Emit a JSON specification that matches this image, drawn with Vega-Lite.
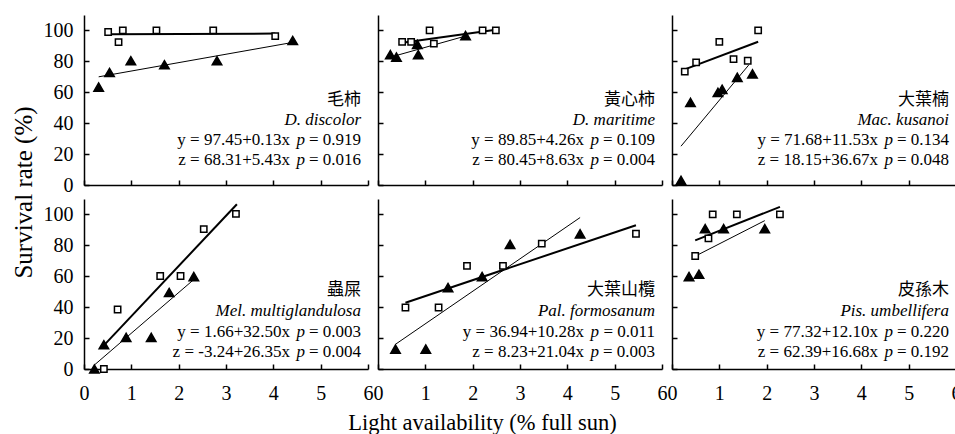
{
"$schema":"https://vega.github.io/schema/vega-lite/v6.json",
"background":"white",
"padding":{"left":11,"top":15,"right":0,"bottom":0},
"datasets":{
"pts":[
{"p":"p1","s":"y","x":0.51,"v":99},{"p":"p1","s":"y","x":0.73,"v":92.5},{"p":"p1","s":"y","x":0.82,"v":100},{"p":"p1","s":"y","x":1.53,"v":100},{"p":"p1","s":"y","x":2.73,"v":100},{"p":"p1","s":"y","x":4.04,"v":96.3},
{"p":"p1","s":"z","x":0.31,"v":63.4},{"p":"p1","s":"z","x":0.54,"v":72.8},{"p":"p1","s":"z","x":0.99,"v":80.4},{"p":"p1","s":"z","x":1.70,"v":77.8},{"p":"p1","s":"z","x":2.81,"v":80.4},{"p":"p1","s":"z","x":4.41,"v":93.5},
{"p":"p2","s":"z","x":0.26,"v":84.3},{"p":"p2","s":"z","x":0.39,"v":82.8},{"p":"p2","s":"z","x":0.83,"v":91},{"p":"p2","s":"z","x":0.85,"v":84.3},{"p":"p2","s":"z","x":1.85,"v":96.7},
{"p":"p2","s":"y","x":0.51,"v":92.6},{"p":"p2","s":"y","x":0.70,"v":92.6},{"p":"p2","s":"y","x":1.09,"v":100},{"p":"p2","s":"y","x":1.18,"v":91.5},{"p":"p2","s":"y","x":2.21,"v":100},{"p":"p2","s":"y","x":2.49,"v":100},
{"p":"p3","s":"y","x":0.27,"v":73.4},{"p":"p3","s":"y","x":0.51,"v":79.3},{"p":"p3","s":"y","x":1.0,"v":92.6},{"p":"p3","s":"y","x":1.30,"v":81.5},{"p":"p3","s":"y","x":1.60,"v":80.4},{"p":"p3","s":"y","x":1.82,"v":100},
{"p":"p3","s":"z","x":0.19,"v":3},{"p":"p3","s":"z","x":0.39,"v":53.4},{"p":"p3","s":"z","x":0.97,"v":59.9},{"p":"p3","s":"z","x":1.06,"v":61.9},{"p":"p3","s":"z","x":1.38,"v":69.7},{"p":"p3","s":"z","x":1.70,"v":71.9},
{"p":"p4","s":"y","x":0.42,"v":0},{"p":"p4","s":"y","x":0.71,"v":38.5},{"p":"p4","s":"y","x":1.61,"v":60.2},{"p":"p4","s":"y","x":2.04,"v":60.2},{"p":"p4","s":"y","x":2.53,"v":90.5},{"p":"p4","s":"y","x":3.21,"v":100.4},
{"p":"p4","s":"z","x":0.22,"v":0},{"p":"p4","s":"z","x":0.42,"v":15.7},{"p":"p4","s":"z","x":0.89,"v":20.4},{"p":"p4","s":"z","x":1.42,"v":20.4},{"p":"p4","s":"z","x":1.80,"v":49.5},{"p":"p4","s":"z","x":2.32,"v":59.8},
{"p":"p5","s":"y","x":0.58,"v":39.8},{"p":"p5","s":"y","x":1.28,"v":39.8},{"p":"p5","s":"y","x":1.88,"v":66.7},{"p":"p5","s":"y","x":2.64,"v":66.7},{"p":"p5","s":"y","x":3.46,"v":81.1},{"p":"p5","s":"y","x":5.45,"v":87.5},
{"p":"p5","s":"z","x":0.37,"v":12.9},{"p":"p5","s":"z","x":1.01,"v":12.9},{"p":"p5","s":"z","x":1.48,"v":52.7},{"p":"p5","s":"z","x":2.20,"v":59.8},{"p":"p5","s":"z","x":2.79,"v":80.6},{"p":"p5","s":"z","x":4.27,"v":87.5},
{"p":"p6","s":"y","x":0.49,"v":73.1},{"p":"p6","s":"y","x":0.77,"v":84.5},{"p":"p6","s":"y","x":0.86,"v":100},{"p":"p6","s":"y","x":1.37,"v":100},{"p":"p6","s":"y","x":2.28,"v":100},
{"p":"p6","s":"z","x":0.36,"v":59.8},{"p":"p6","s":"z","x":0.57,"v":61.3},{"p":"p6","s":"z","x":0.70,"v":90.8},{"p":"p6","s":"z","x":1.09,"v":90.8},{"p":"p6","s":"z","x":1.96,"v":90.8}
],
"lns":[
{"p":"p1","s":"y","x":0.51,"v":97.5},{"p":"p1","s":"y","x":4.04,"v":98.0},{"p":"p1","s":"z","x":0.31,"v":70.0},{"p":"p1","s":"z","x":4.38,"v":92.1},
{"p":"p2","s":"y","x":0.51,"v":92.0},{"p":"p2","s":"y","x":2.49,"v":100.5},{"p":"p2","s":"z","x":0.26,"v":82.7},{"p":"p2","s":"z","x":1.85,"v":96.4},
{"p":"p3","s":"y","x":0.27,"v":74.8},{"p":"p3","s":"y","x":1.82,"v":92.7},{"p":"p3","s":"z","x":0.19,"v":25.1},{"p":"p3","s":"z","x":1.62,"v":77.6},
{"p":"p4","s":"y","x":0.42,"v":15.3},{"p":"p4","s":"y","x":3.23,"v":106.6},{"p":"p4","s":"z","x":0.22,"v":2.6},{"p":"p4","s":"z","x":2.32,"v":57.9},
{"p":"p5","s":"y","x":0.58,"v":42.9},{"p":"p5","s":"y","x":5.45,"v":93.0},{"p":"p5","s":"z","x":0.37,"v":16.0},{"p":"p5","s":"z","x":4.27,"v":98.0},
{"p":"p6","s":"y","x":0.49,"v":83.2},{"p":"p6","s":"y","x":2.28,"v":104.9},{"p":"p6","s":"z","x":0.49,"v":73.0},{"p":"p6","s":"z","x":1.96,"v":96.0}
],
"txt":[
{"p":"p1","cn":"毛柿","la":"D. discolor","eq":["y = 97.45+0.13x","z = 68.31+5.43x"],"pv":["= 0.919","= 0.016"]},
{"p":"p2","cn":"黃心柿","la":"D. maritime","eq":["y = 89.85+4.26x","z = 80.45+8.63x"],"pv":["= 0.109","= 0.004"]},
{"p":"p3","cn":"大葉楠","la":"Mac. kusanoi","eq":["y = 71.68+11.53x","z = 18.15+36.67x"],"pv":["= 0.134","= 0.048"]},
{"p":"p4","cn":"蟲屎","la":"Mel. multiglandulosa","eq":["y = 1.66+32.50x","z = -3.24+26.35x"],"pv":["= 0.003","= 0.004"]},
{"p":"p5","cn":"大葉山欖","la":"Pal. formosanum","eq":["y = 36.94+10.28x","z = 8.23+21.04x"],"pv":["= 0.011","= 0.003"]},
{"p":"p6","cn":"皮孫木","la":"Pis. umbellifera","eq":["y = 77.32+12.10x","z = 62.39+16.68x"],"pv":["= 0.220","= 0.192"]}
]
},
"columns":3,
"spacing":{"row":14,"column":10},
"bounds":"flush",
"concat":[
{"width":284,"height":170,"layer":[
{"data":{"name":"lns"},"transform":[{"filter":"datum.p==='p1'"}],"mark":"line","encoding":{"x":{"field":"x","type":"quantitative","scale":{"domain":[0,6],"nice":false},"axis":{"values":[0,1,2,3,4,5,6],"format":"d","labels":false,"title":null}},"y":{"field":"v","type":"quantitative","scale":{"domain":[0,110],"nice":false},"axis":{"values":[0,20,40,60,80,100],"format":"d","tickCount":12,"title":"Survival rate (%)","titleY":177,"titlePadding":7}},"detail":{"field":"s"},"strokeWidth":{"field":"s","type":"nominal","scale":{"domain":["y","z"],"range":[2,1]},"legend":null}}},
{"data":{"name":"pts"},"transform":[{"filter":"datum.p==='p1'"}],"mark":"point","encoding":{"x":{"field":"x","type":"quantitative"},"y":{"field":"v","type":"quantitative"},"shape":{"field":"s","type":"nominal","scale":{"domain":["y","z"],"range":["square","triangle-up"]},"legend":null},"fill":{"field":"s","type":"nominal","scale":{"domain":["y","z"],"range":["white","black"]},"legend":null},"size":{"field":"s","type":"ordinal","scale":{"domain":["y","z"],"range":[40,90]},"legend":null}}},
{"data":{"name":"txt"},"transform":[{"filter":"datum.p==='p1'"}],"mark":{"type":"text","dx":-7,"font":"Noto Sans CJK TC"},"encoding":{"x":{"datum":6},"y":{"datum":55},"text":{"field":"cn","type":"nominal"}}},
{"data":{"name":"txt"},"transform":[{"filter":"datum.p==='p1'"}],"mark":{"type":"text","dx":-7,"fontStyle":"italic"},"encoding":{"x":{"datum":6},"y":{"datum":42},"text":{"field":"la","type":"nominal"}}},
{"data":{"name":"txt"},"transform":[{"filter":"datum.p==='p1'"}],"mark":{"type":"text","dx":-78},"encoding":{"x":{"datum":6},"y":{"datum":29.1},"text":{"field":"eq","type":"nominal"}}},
{"data":{"name":"txt"},"transform":[{"filter":"datum.p==='p1'"}],"mark":{"type":"text","dx":-63,"fontStyle":"italic"},"encoding":{"x":{"datum":6},"y":{"datum":29.1},"text":{"value":["p","p"]}}},
{"data":{"name":"txt"},"transform":[{"filter":"datum.p==='p1'"}],"mark":{"type":"text","dx":-7},"encoding":{"x":{"datum":6},"y":{"datum":29.1},"text":{"field":"pv","type":"nominal"}}}
]},
{"width":284,"height":170,"layer":[
{"data":{"name":"lns"},"transform":[{"filter":"datum.p==='p2'"}],"mark":"line","encoding":{"x":{"field":"x","type":"quantitative","scale":{"domain":[0,6],"nice":false},"axis":{"values":[0,1,2,3,4,5,6],"format":"d","labels":false,"title":null}},"y":{"field":"v","type":"quantitative","scale":{"domain":[0,110],"nice":false},"axis":{"values":[0,20,40,60,80,100],"format":"d","tickCount":12,"labels":false,"title":null}},"detail":{"field":"s"},"strokeWidth":{"field":"s","type":"nominal","scale":{"domain":["y","z"],"range":[2,1]},"legend":null}}},
{"data":{"name":"pts"},"transform":[{"filter":"datum.p==='p2'"}],"mark":"point","encoding":{"x":{"field":"x","type":"quantitative"},"y":{"field":"v","type":"quantitative"},"shape":{"field":"s","type":"nominal","scale":{"domain":["y","z"],"range":["square","triangle-up"]},"legend":null},"fill":{"field":"s","type":"nominal","scale":{"domain":["y","z"],"range":["white","black"]},"legend":null},"size":{"field":"s","type":"ordinal","scale":{"domain":["y","z"],"range":[40,90]},"legend":null}}},
{"data":{"name":"txt"},"transform":[{"filter":"datum.p==='p2'"}],"mark":{"type":"text","dx":-7,"font":"Noto Sans CJK TC"},"encoding":{"x":{"datum":6},"y":{"datum":55},"text":{"field":"cn","type":"nominal"}}},
{"data":{"name":"txt"},"transform":[{"filter":"datum.p==='p2'"}],"mark":{"type":"text","dx":-7,"fontStyle":"italic"},"encoding":{"x":{"datum":6},"y":{"datum":42},"text":{"field":"la","type":"nominal"}}},
{"data":{"name":"txt"},"transform":[{"filter":"datum.p==='p2'"}],"mark":{"type":"text","dx":-78},"encoding":{"x":{"datum":6},"y":{"datum":29.1},"text":{"field":"eq","type":"nominal"}}},
{"data":{"name":"txt"},"transform":[{"filter":"datum.p==='p2'"}],"mark":{"type":"text","dx":-63,"fontStyle":"italic"},"encoding":{"x":{"datum":6},"y":{"datum":29.1},"text":{"value":["p","p"]}}},
{"data":{"name":"txt"},"transform":[{"filter":"datum.p==='p2'"}],"mark":{"type":"text","dx":-7},"encoding":{"x":{"datum":6},"y":{"datum":29.1},"text":{"field":"pv","type":"nominal"}}}
]},
{"width":284,"height":170,"layer":[
{"data":{"name":"lns"},"transform":[{"filter":"datum.p==='p3'"}],"mark":"line","encoding":{"x":{"field":"x","type":"quantitative","scale":{"domain":[0,6],"nice":false},"axis":{"values":[0,1,2,3,4,5,6],"format":"d","labels":false,"title":null}},"y":{"field":"v","type":"quantitative","scale":{"domain":[0,110],"nice":false},"axis":{"values":[0,20,40,60,80,100],"format":"d","tickCount":12,"labels":false,"title":null}},"detail":{"field":"s"},"strokeWidth":{"field":"s","type":"nominal","scale":{"domain":["y","z"],"range":[2,1]},"legend":null}}},
{"data":{"name":"pts"},"transform":[{"filter":"datum.p==='p3'"}],"mark":"point","encoding":{"x":{"field":"x","type":"quantitative"},"y":{"field":"v","type":"quantitative"},"shape":{"field":"s","type":"nominal","scale":{"domain":["y","z"],"range":["square","triangle-up"]},"legend":null},"fill":{"field":"s","type":"nominal","scale":{"domain":["y","z"],"range":["white","black"]},"legend":null},"size":{"field":"s","type":"ordinal","scale":{"domain":["y","z"],"range":[40,90]},"legend":null}}},
{"data":{"name":"txt"},"transform":[{"filter":"datum.p==='p3'"}],"mark":{"type":"text","dx":-7,"font":"Noto Sans CJK TC"},"encoding":{"x":{"datum":6},"y":{"datum":55},"text":{"field":"cn","type":"nominal"}}},
{"data":{"name":"txt"},"transform":[{"filter":"datum.p==='p3'"}],"mark":{"type":"text","dx":-7,"fontStyle":"italic"},"encoding":{"x":{"datum":6},"y":{"datum":42},"text":{"field":"la","type":"nominal"}}},
{"data":{"name":"txt"},"transform":[{"filter":"datum.p==='p3'"}],"mark":{"type":"text","dx":-78},"encoding":{"x":{"datum":6},"y":{"datum":29.1},"text":{"field":"eq","type":"nominal"}}},
{"data":{"name":"txt"},"transform":[{"filter":"datum.p==='p3'"}],"mark":{"type":"text","dx":-63,"fontStyle":"italic"},"encoding":{"x":{"datum":6},"y":{"datum":29.1},"text":{"value":["p","p"]}}},
{"data":{"name":"txt"},"transform":[{"filter":"datum.p==='p3'"}],"mark":{"type":"text","dx":-7},"encoding":{"x":{"datum":6},"y":{"datum":29.1},"text":{"field":"pv","type":"nominal"}}}
]},
{"width":284,"height":170,"layer":[
{"data":{"name":"lns"},"transform":[{"filter":"datum.p==='p4'"}],"mark":"line","encoding":{"x":{"field":"x","type":"quantitative","scale":{"domain":[0,6],"nice":false},"axis":{"values":[0,1,2,3,4,5,6],"format":"d","title":null}},"y":{"field":"v","type":"quantitative","scale":{"domain":[0,110],"nice":false},"axis":{"values":[0,20,40,60,80,100],"format":"d","tickCount":12,"title":null}},"detail":{"field":"s"},"strokeWidth":{"field":"s","type":"nominal","scale":{"domain":["y","z"],"range":[2,1]},"legend":null}}},
{"data":{"name":"pts"},"transform":[{"filter":"datum.p==='p4'"}],"mark":"point","encoding":{"x":{"field":"x","type":"quantitative"},"y":{"field":"v","type":"quantitative"},"shape":{"field":"s","type":"nominal","scale":{"domain":["y","z"],"range":["square","triangle-up"]},"legend":null},"fill":{"field":"s","type":"nominal","scale":{"domain":["y","z"],"range":["white","black"]},"legend":null},"size":{"field":"s","type":"ordinal","scale":{"domain":["y","z"],"range":[40,90]},"legend":null}}},
{"data":{"name":"txt"},"transform":[{"filter":"datum.p==='p4'"}],"mark":{"type":"text","dx":-7,"font":"Noto Sans CJK TC"},"encoding":{"x":{"datum":6},"y":{"datum":51.1},"text":{"field":"cn","type":"nominal"}}},
{"data":{"name":"txt"},"transform":[{"filter":"datum.p==='p4'"}],"mark":{"type":"text","dx":-7,"fontStyle":"italic"},"encoding":{"x":{"datum":6},"y":{"datum":37.5},"text":{"field":"la","type":"nominal"}}},
{"data":{"name":"txt"},"transform":[{"filter":"datum.p==='p4'"}],"mark":{"type":"text","dx":-78},"encoding":{"x":{"datum":6},"y":{"datum":24.1},"text":{"field":"eq","type":"nominal"}}},
{"data":{"name":"txt"},"transform":[{"filter":"datum.p==='p4'"}],"mark":{"type":"text","dx":-63,"fontStyle":"italic"},"encoding":{"x":{"datum":6},"y":{"datum":24.1},"text":{"value":["p","p"]}}},
{"data":{"name":"txt"},"transform":[{"filter":"datum.p==='p4'"}],"mark":{"type":"text","dx":-7},"encoding":{"x":{"datum":6},"y":{"datum":24.1},"text":{"field":"pv","type":"nominal"}}}
]},
{"width":284,"height":170,"layer":[
{"data":{"name":"lns"},"transform":[{"filter":"datum.p==='p5'"}],"mark":"line","encoding":{"x":{"field":"x","type":"quantitative","scale":{"domain":[0,6],"nice":false},"axis":{"values":[0,1,2,3,4,5,6],"format":"d","title":"Light availability (% full sun)","titleX":104,"titlePadding":8}},"y":{"field":"v","type":"quantitative","scale":{"domain":[0,110],"nice":false},"axis":{"values":[0,20,40,60,80,100],"format":"d","tickCount":12,"labels":false,"title":null}},"detail":{"field":"s"},"strokeWidth":{"field":"s","type":"nominal","scale":{"domain":["y","z"],"range":[2,1]},"legend":null}}},
{"data":{"name":"pts"},"transform":[{"filter":"datum.p==='p5'"}],"mark":"point","encoding":{"x":{"field":"x","type":"quantitative"},"y":{"field":"v","type":"quantitative"},"shape":{"field":"s","type":"nominal","scale":{"domain":["y","z"],"range":["square","triangle-up"]},"legend":null},"fill":{"field":"s","type":"nominal","scale":{"domain":["y","z"],"range":["white","black"]},"legend":null},"size":{"field":"s","type":"ordinal","scale":{"domain":["y","z"],"range":[40,90]},"legend":null}}},
{"data":{"name":"txt"},"transform":[{"filter":"datum.p==='p5'"}],"mark":{"type":"text","dx":-7,"font":"Noto Sans CJK TC"},"encoding":{"x":{"datum":6},"y":{"datum":51.1},"text":{"field":"cn","type":"nominal"}}},
{"data":{"name":"txt"},"transform":[{"filter":"datum.p==='p5'"}],"mark":{"type":"text","dx":-7,"fontStyle":"italic"},"encoding":{"x":{"datum":6},"y":{"datum":37.5},"text":{"field":"la","type":"nominal"}}},
{"data":{"name":"txt"},"transform":[{"filter":"datum.p==='p5'"}],"mark":{"type":"text","dx":-78},"encoding":{"x":{"datum":6},"y":{"datum":24.1},"text":{"field":"eq","type":"nominal"}}},
{"data":{"name":"txt"},"transform":[{"filter":"datum.p==='p5'"}],"mark":{"type":"text","dx":-63,"fontStyle":"italic"},"encoding":{"x":{"datum":6},"y":{"datum":24.1},"text":{"value":["p","p"]}}},
{"data":{"name":"txt"},"transform":[{"filter":"datum.p==='p5'"}],"mark":{"type":"text","dx":-7},"encoding":{"x":{"datum":6},"y":{"datum":24.1},"text":{"field":"pv","type":"nominal"}}}
]},
{"width":284,"height":170,"layer":[
{"data":{"name":"lns"},"transform":[{"filter":"datum.p==='p6'"}],"mark":"line","encoding":{"x":{"field":"x","type":"quantitative","scale":{"domain":[0,6],"nice":false},"axis":{"values":[0,1,2,3,4,5,6],"format":"d","title":null}},"y":{"field":"v","type":"quantitative","scale":{"domain":[0,110],"nice":false},"axis":{"values":[0,20,40,60,80,100],"format":"d","tickCount":12,"labels":false,"title":null}},"detail":{"field":"s"},"strokeWidth":{"field":"s","type":"nominal","scale":{"domain":["y","z"],"range":[2,1]},"legend":null}}},
{"data":{"name":"pts"},"transform":[{"filter":"datum.p==='p6'"}],"mark":"point","encoding":{"x":{"field":"x","type":"quantitative"},"y":{"field":"v","type":"quantitative"},"shape":{"field":"s","type":"nominal","scale":{"domain":["y","z"],"range":["square","triangle-up"]},"legend":null},"fill":{"field":"s","type":"nominal","scale":{"domain":["y","z"],"range":["white","black"]},"legend":null},"size":{"field":"s","type":"ordinal","scale":{"domain":["y","z"],"range":[40,90]},"legend":null}}},
{"data":{"name":"txt"},"transform":[{"filter":"datum.p==='p6'"}],"mark":{"type":"text","dx":-7,"font":"Noto Sans CJK TC"},"encoding":{"x":{"datum":6},"y":{"datum":51.1},"text":{"field":"cn","type":"nominal"}}},
{"data":{"name":"txt"},"transform":[{"filter":"datum.p==='p6'"}],"mark":{"type":"text","dx":-7,"fontStyle":"italic"},"encoding":{"x":{"datum":6},"y":{"datum":37.5},"text":{"field":"la","type":"nominal"}}},
{"data":{"name":"txt"},"transform":[{"filter":"datum.p==='p6'"}],"mark":{"type":"text","dx":-78},"encoding":{"x":{"datum":6},"y":{"datum":24.1},"text":{"field":"eq","type":"nominal"}}},
{"data":{"name":"txt"},"transform":[{"filter":"datum.p==='p6'"}],"mark":{"type":"text","dx":-63,"fontStyle":"italic"},"encoding":{"x":{"datum":6},"y":{"datum":24.1},"text":{"value":["p","p"]}}},
{"data":{"name":"txt"},"transform":[{"filter":"datum.p==='p6'"}],"mark":{"type":"text","dx":-7},"encoding":{"x":{"datum":6},"y":{"datum":24.1},"text":{"field":"pv","type":"nominal"}}}
]}
],
"config":{
"font":"Liberation Serif",
"view":{"stroke":null},
"line":{"color":"black"},
"point":{"filled":true,"stroke":"black","strokeWidth":1.5,"opacity":1},
"text":{"align":"right","baseline":"middle","fontSize":17,"font":"Liberation Serif","color":"black","lineHeight":20},
"axis":{"domainColor":"black","domainWidth":1.5,"tickColor":"black","tickWidth":1.5,"tickSize":-5,"grid":false,"labelFont":"Liberation Serif","labelFontSize":20,"labelColor":"black","labelFlush":false,"labelOverlap":false,"titleFont":"Liberation Serif","titleFontSize":22.5,"titleFontWeight":"normal","titleColor":"black"},
"axisX":{"labelPadding":19},
"axisY":{"labelPadding":16,"titleFontSize":25}
}
}
